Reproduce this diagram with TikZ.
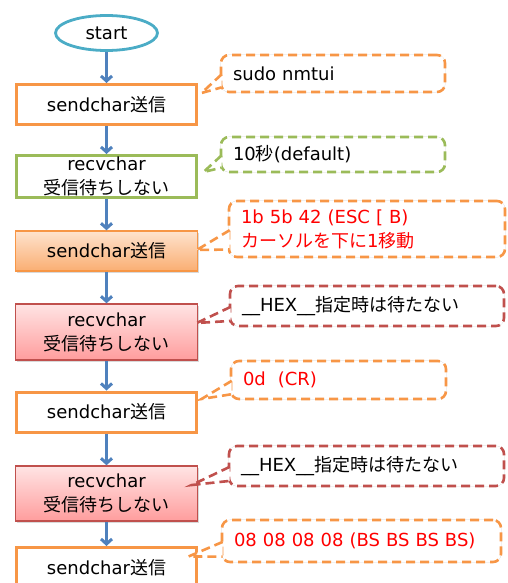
\documentclass[tikz,border=0pt]{standalone}
\usepackage{fontspec}
\setmainfont{DejaVu Sans}
\newfontfamily\jp{Noto Sans CJK JP}
\usetikzlibrary{shapes.geometric,shadows,calc,arrows.meta}
\definecolor{flowblue}{HTML}{4F81BD}
\definecolor{startaqua}{HTML}{4BACC6}
\definecolor{sendorange}{HTML}{F79646}
\definecolor{recvgreen}{HTML}{9BBB59}
\definecolor{recvred}{HTML}{C0504D}
\definecolor{hexred}{HTML}{FF0000}
\definecolor{peachtop}{HTML}{FEE3CE}
\definecolor{peachbot}{HTML}{FAAE72}
\definecolor{pinktop}{HTML}{FFE4E4}
\definecolor{pinkbot}{HTML}{FF9D9D}

\begin{document}
\begin{tikzpicture}[x=1pt, y=-1pt, font=\fontsize{18}{24}\selectfont,
  box/.style={draw=#1, rectangle, minimum width=180pt, minimum height=40pt,
    line width=3pt, align=center, inner sep=0pt},
  shadebox/.style={box=#1, line width=1.4pt, minimum width=182pt,
    drop shadow={shadow xshift=1pt, shadow yshift=-1.5pt, opacity=.3}},
  note/.style={draw=#1, fill=white, rounded corners=8pt, line width=2.6pt,
    dash pattern=on 9pt off 5pt, inner xsep=12pt, inner ysep=0pt, align=left,
    preaction={draw=black!18, solid, line width=0.6pt}},
  tail/.style={draw=#1, fill=white, line width=2.6pt, dash pattern=on 9pt off 5pt},
  flow/.style={draw=flowblue, line width=3pt, -{Straight Barb[length=5pt,width=11pt]}}]
\useasboundingbox (0,0) rectangle (508,583);
\clip (0,0) rectangle (508,583);

% Start of the flow
\node[draw=startaqua, line width=2.8pt, ellipse, minimum width=102pt,
  minimum height=35pt, inner sep=0pt] (start) at (106.5,33) {start};

% Steps (send and receive)
\node[box=sendorange] (s1) at (106.5,104.5) {sendchar{\jp 送信}};
\node[box=recvgreen, minimum height=42pt] (r1) at (106.5,176.5) {recvchar\\{\jp 受信待ちしない}};
\node[shadebox=sendorange, top color=peachtop, bottom color=peachbot] (s2) at (106.5,251) {sendchar{\jp 送信}};
\node[shadebox=recvred, top color=pinktop, bottom color=pinkbot, minimum height=56pt] (r2) at (106.5,332) {recvchar\\{\jp 受信待ちしない}};
\node[box=sendorange] (s3) at (106.5,412) {sendchar{\jp 送信}};
\node[shadebox=recvred, top color=pinktop, bottom color=pinkbot, minimum height=55pt] (r3) at (106.5,493.5) {recvchar\\{\jp 受信待ちしない}};
\node[box=sendorange] (s4) at (106.5,567.5) {sendchar{\jp 送信}};

% Arrows between the steps
\draw[flow] (start) -- (s1);
\draw[flow] (s1) -- (r1);
\draw[flow] (r1) -- (s2);
\draw[flow] (s2) -- (r2);
\draw[flow] (r2) -- (s3);
\draw[flow] (s3) -- (r3);
\draw[flow] (r3) -- (s4);

% Notes
\node[note=sendorange, text width=200pt, minimum height=37pt] (n1) at (333,73.5) {sudo nmtui};
\node[note=recvgreen, text width=200pt, minimum height=35pt] (n2) at (333,154.5) {10{\jp 秒}(default)};
\node[note=sendorange, text width=252pt, minimum height=56pt, text=hexred] (n3) at (367,229) {1b 5b 42 (ESC [ B)\\{\jp カーソルを下に}1{\jp 移動}};
\node[note=recvred, text width=250pt, minimum height=40pt] (n4) at (367,306) {\_\_HEX\_\_{\jp 指定時は待たない}};
\node[note=sendorange, text width=191pt, minimum height=38pt, text=hexred] (n5) at (338.5,380) {0d\ \ (CR)};
\node[note=recvred, text width=251pt, minimum height=40pt] (n6) at (366.5,466) {\_\_HEX\_\_{\jp 指定時は待たない}};
\node[note=sendorange, text width=255pt, minimum height=42pt, text=hexred] (n7) at (361.5,541) {08 08 08 08 (BS BS BS BS)};

% Note tails pointing at the steps
\draw[tail=sendorange] ($(n1.north west)!.52!(n1.south west)+(2,0)$) -- ([shift={(3.5,-11.5)}]s1.east) -- ($(n1.north west)!.85!(n1.south west)+(2,0)$);
\draw[tail=recvgreen] ($(n2.north west)!.52!(n2.south west)+(2,0)$) -- ([shift={(5.5,-4.5)}]r1.east) -- ($(n2.north west)!.85!(n2.south west)+(2,0)$);
\draw[tail=sendorange] ($(n3.north west)!.52!(n3.south west)+(2,0)$) -- ([shift={(-1.5,-1)}]s2.east) -- ($(n3.north west)!.85!(n3.south west)+(2,0)$);
\draw[tail=recvred] ($(n4.north west)!.52!(n4.south west)+(2,0)$) -- ([shift={(-1.5,-9)}]r2.east) -- ($(n4.north west)!.85!(n4.south west)+(2,0)$);
\draw[tail=sendorange] ($(n5.north west)!.52!(n5.south west)+(2,0)$) -- ([shift={(3.5,-13)}]s3.east) -- ($(n5.north west)!.85!(n5.south west)+(2,0)$);
\draw[tail=recvred] ($(n6.north west)!.52!(n6.south west)+(2,0)$) -- ([shift={(-6.5,-8.5)}]r3.east) -- ($(n6.north west)!.85!(n6.south west)+(2,0)$);
\draw[tail=sendorange] ($(n7.north west)!.52!(n7.south west)+(2,0)$) -- ([shift={(-9.5,-11)}]s4.east) -- ($(n7.north west)!.85!(n7.south west)+(2,0)$);
\end{tikzpicture}
\end{document}
